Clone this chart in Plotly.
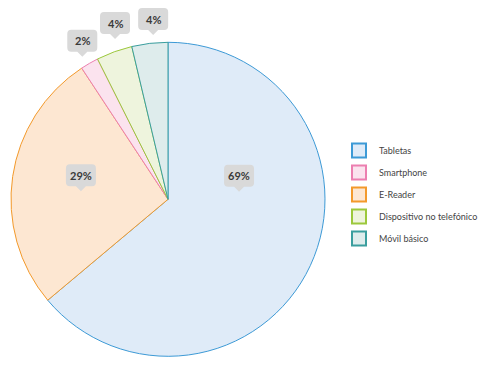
import math
import plotly.graph_objects as go

# ---- data ----
slice_labels = ["Tabletas", "E-Reader", "Smartphone", "Dispositivo no telefónico", "Móvil básico"]
slice_values = [69, 29, 2, 4, 4]
legend_order = ["Tabletas", "Smartphone", "E-Reader", "Dispositivo no telefónico", "Móvil básico"]

# ---- styles ----
fill_colors = {
    "Tabletas": "#dfebf8",
    "Smartphone": "#fbe3ee",
    "E-Reader": "#fde7d2",
    "Dispositivo no telefónico": "#eef4dd",
    "Móvil básico": "#deecec",
}
line_colors = {
    "Tabletas": "#3d9ad6",
    "Smartphone": "#ec7fb0",
    "E-Reader": "#f39a2c",
    "Dispositivo no telefónico": "#9cc83c",
    "Móvil básico": "#3a9e9e",
}
# label placement (radius fraction, angular shift in degrees)
label_r = [0.455, 0.557, 1.06, 1.075, 1.05]
label_shift = [-31, -3, -1, 1.7, 1.5]

# page body has an 8px default margin; lay out in screen pixels
OFF = 8
SW, SH = 486, 369
W, H = SW - OFF, SH - OFF
cx, cy, R = 168, 199.3, 157


def px(x):
    return (x - OFF) / W


def py(y):
    return 1 - (y - OFF) / H


dom_x = [px(cx - R), px(cx + R)]
dom_y = [py(cy + R), py(cy - R)]

fig = go.Figure()
fig.add_trace(go.Pie(
    labels=slice_labels, values=slice_values, sort=False, direction="clockwise",
    rotation=0, textinfo="none", hoverinfo="label+value", showlegend=False,
    marker=dict(colors=[fill_colors[l] for l in slice_labels],
                line=dict(color=[line_colors[l] for l in slice_labels], width=1)),
    domain=dict(x=dom_x, y=dom_y),
))

for name in legend_order:
    fig.add_trace(go.Scatter(
        x=[None], y=[None], mode="markers", name=name, legendgroup=name,
        marker=dict(symbol="square", size=14, color=fill_colors[name],
                    line=dict(color=line_colors[name], width=2)),
        hoverinfo="skip",
    ))

total = sum(slice_values)
shapes = []
annotations = []
cum = 0
for i, (lab, v) in enumerate(zip(slice_labels, slice_values)):
    mid = (cum + v / 2) / total * 360 + label_shift[i]
    cum += v
    rr = label_r[i] * R
    tx = cx + rr * math.sin(math.radians(mid))
    ty = cy - rr * math.cos(math.radians(mid))
    bw, bh, rad, ph, pw = 30, 22, 4, 5, 5
    x0, x1 = tx - bw / 2, tx + bw / 2
    y1 = ty - ph
    y0 = y1 - bh
    pts = (f"M {px(x0+rad)},{py(y0)} L {px(x1-rad)},{py(y0)} Q {px(x1)},{py(y0)} {px(x1)},{py(y0+rad)} "
           f"L {px(x1)},{py(y1-rad)} Q {px(x1)},{py(y1)} {px(x1-rad)},{py(y1)} "
           f"L {px(tx+pw)},{py(y1)} L {px(tx)},{py(ty)} L {px(tx-pw)},{py(y1)} "
           f"L {px(x0+rad)},{py(y1)} Q {px(x0)},{py(y1)} {px(x0)},{py(y1-rad)} "
           f"L {px(x0)},{py(y0+rad)} Q {px(x0)},{py(y0)} {px(x0+rad)},{py(y0)} Z")
    shapes.append(dict(type="path", xref="paper", yref="paper", path=pts,
                       fillcolor="#d9d9d9", line=dict(width=0), layer="above"))
    annotations.append(dict(x=px(tx), y=py((y0 + y1) / 2), xref="paper", yref="paper",
                            text=f"<b>{v}%</b>", showarrow=False,
                            font=dict(family="Lato", size=11, color="#3a3a3a"),
                            xanchor="center", yanchor="middle"))

fig.update_layout(
    width=W, height=H,
    margin=dict(l=0, r=0, t=0, b=0),
    paper_bgcolor="white", plot_bgcolor="white",
    xaxis=dict(visible=False), yaxis=dict(visible=False),
    shapes=shapes, annotations=annotations,
    legend=dict(x=px(339), y=py(136), xanchor="left", yanchor="top",
                traceorder="grouped", tracegroupgap=3,
                font=dict(family="Lato", size=9, color="#444444"),
                bgcolor="rgba(0,0,0,0)"),
    showlegend=True,
)

fig.write_html("out.html")
